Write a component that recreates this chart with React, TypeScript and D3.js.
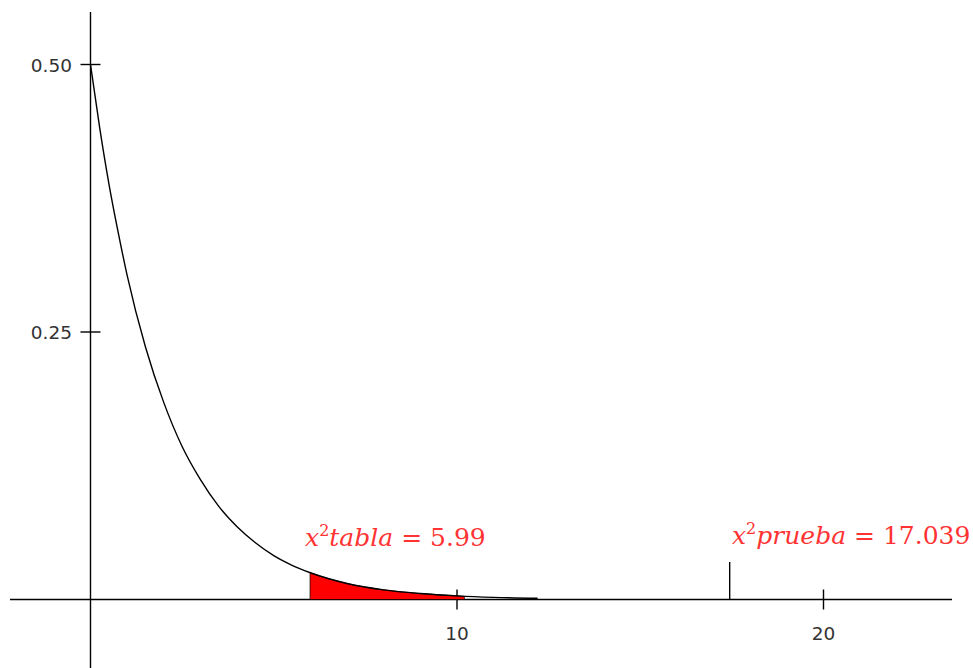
import React, { useEffect, useRef } from "react";
import * as d3 from "d3";

// chi-square density
const curveX = [0, 0.25, 0.5, 0.75, 1, 1.5, 2, 2.5, 3, 3.5, 4, 4.5, 5, 5.5, 6, 7, 8, 9, 10, 11, 12.2];
const curveY = [0.5, 0.441, 0.389, 0.344, 0.303, 0.236, 0.184, 0.143, 0.112, 0.087, 0.068, 0.053, 0.041, 0.032, 0.025, 0.015, 0.009, 0.0056, 0.0034, 0.002, 0.0011];

// rejection region, shaded in red
const shadeX = [5.99, 6.5, 7, 8, 9, 10.2];
const shadeY = [0.025, 0.0194, 0.015, 0.009, 0.0056, 0.003];

const xTicks = [10, 20];
const yTicks = [0.25, 0.5];
const yTickLabels = ["0.25", "0.50"];

const tablaValue = 5.99;
const pruebaMarkX = 17.44;
const tablaLabel = "tabla = 5.99";
const pruebaLabel = "prueba = 17.039";

const W = 973;
const H = 668;

const App = () => {
  const svgRef = useRef<SVGSVGElement>(null);

  useEffect(() => {
    const svg = d3.select(svgRef.current);
    svg.selectAll("*").remove();

    const x = d3.scaleLinear().domain([0, 20]).range([90.5, 823.5]);
    const y = d3.scaleLinear().domain([0, 0.5]).range([599.5, 64.5]);

    // axes lines
    svg.append("line")
      .attr("x1", 10).attr("x2", 952)
      .attr("y1", y(0)).attr("y2", y(0))
      .attr("stroke", "#000").attr("stroke-width", 1.4);
    svg.append("line")
      .attr("x1", x(0)).attr("x2", x(0))
      .attr("y1", 12).attr("y2", H)
      .attr("stroke", "#000").attr("stroke-width", 1.4);

    // x ticks
    const xt = svg.append("g").selectAll("g").data(xTicks).join("g");
    xt.append("line")
      .attr("x1", (d) => x(d)).attr("x2", (d) => x(d))
      .attr("y1", y(0) - 10).attr("y2", y(0) + 10)
      .attr("stroke", "#000").attr("stroke-width", 1.4);
    xt.append("text")
      .attr("x", (d) => x(d)).attr("y", 640)
      .attr("text-anchor", "middle")
      .attr("font-family", "'DejaVu Sans', sans-serif")
      .attr("font-size", 18.5)
      .attr("fill", "#333")
      .text((d) => d);

    // y ticks
    const yt = svg.append("g").selectAll("g").data(yTicks).join("g");
    yt.append("line")
      .attr("x1", x(0) - 10).attr("x2", x(0) + 10)
      .attr("y1", (d) => y(d)).attr("y2", (d) => y(d))
      .attr("stroke", "#000").attr("stroke-width", 1.4);
    yt.append("text")
      .attr("x", 72).attr("y", (d) => y(d) + 7)
      .attr("text-anchor", "end")
      .attr("font-family", "'DejaVu Sans', sans-serif")
      .attr("font-size", 18.5)
      .attr("fill", "#333")
      .text((d, i) => yTickLabels[i]);

    // shaded area
    const shade = shadeX.map((v, i) => [v, shadeY[i]] as [number, number]);
    svg.append("path")
      .datum(shade)
      .attr("d", d3.area<[number, number]>()
        .x((d) => x(d[0]))
        .y0(y(0))
        .y1((d) => y(d[1]))
        .curve(d3.curveMonotoneX))
      .attr("fill", "#ff0000")
      .attr("stroke", "#000")
      .attr("stroke-width", 0.7);

    // density curve
    const pts = curveX.map((v, i) => [v, curveY[i]] as [number, number]);
    svg.append("path")
      .datum(pts)
      .attr("d", d3.line<[number, number]>()
        .x((d) => x(d[0]))
        .y((d) => y(d[1]))
        .curve(d3.curveMonotoneX))
      .attr("fill", "none")
      .attr("stroke", "#000")
      .attr("stroke-width", 1.4);

    // prueba marker
    svg.append("line")
      .attr("x1", x(pruebaMarkX)).attr("x2", x(pruebaMarkX))
      .attr("y1", 562).attr("y2", y(0))
      .attr("stroke", "#000").attr("stroke-width", 1.4);

    // labels
    const addLabel = (lx: number, ly: number, rest: string) => {
      const t = svg.append("text")
        .attr("x", lx).attr("y", ly)
        .attr("font-family", "'DejaVu Serif', serif")
        .attr("font-size", 25)
        .attr("fill", "#ff3333");
      t.append("tspan").attr("font-style", "italic").text("x");
      t.append("tspan").attr("dy", -10).attr("font-size", 16).text("2");
      t.append("tspan").attr("dy", 10).attr("font-style", "italic").text(rest.split(" = ")[0]);
      t.append("tspan").text(" = " + rest.split(" = ")[1]);
    };
    addLabel(x(tablaValue) - 5, 546, tablaLabel);
    addLabel(732, 544, pruebaLabel);
  }, []);

  return (
    <svg
      ref={svgRef}
      width={W}
      height={H}
      style={{ position: "absolute", left: 0, top: 0, background: "#fff" }}
    />
  );
};

export default App;
